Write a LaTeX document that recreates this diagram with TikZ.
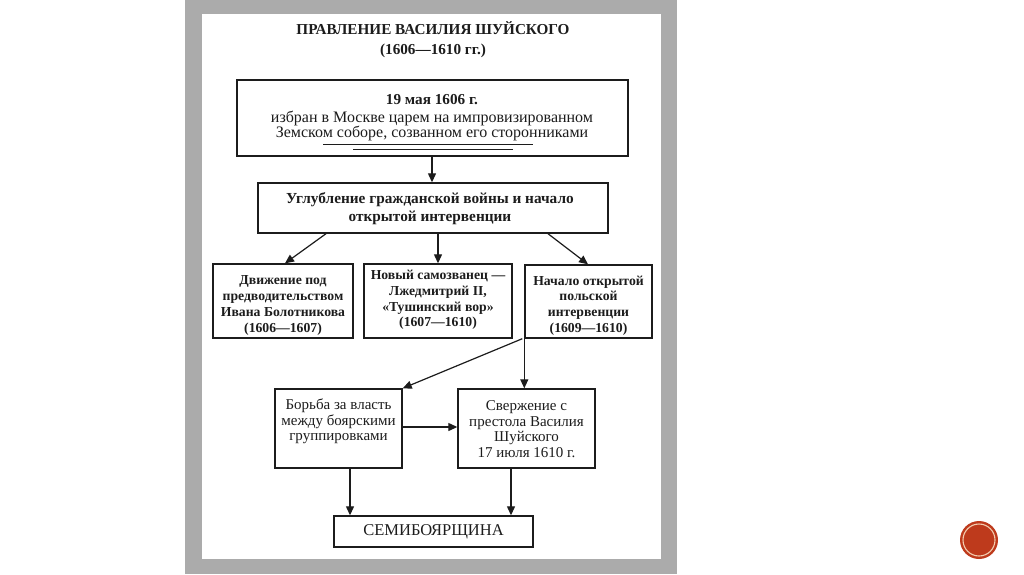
\documentclass[tikz,border=0pt]{standalone}
\usepackage{fontspec}
\setmainfont{Liberation Serif}
\usetikzlibrary{arrows.meta}
\definecolor{panelgrey}{HTML}{ABABAB}
\definecolor{ink}{HTML}{1C1C1C}
\definecolor{dotred}{HTML}{BE3A1C}
\definecolor{ringc}{HTML}{F2CDB0}
\begin{document}
\begin{tikzpicture}[x=1pt,y=-1pt,
  box/.style={draw=ink,line width=1.4pt,inner sep=0pt,fill=white},
  txt/.style={align=center,inner sep=0pt,text=ink,font=\fontsize{13.7}{15.7}\selectfont\bfseries},
  rtxt/.style={align=center,inner sep=0pt,text=ink,font=\fontsize{15}{15.5}\selectfont},
  conn/.style={draw=ink,line width=1.2pt,-{Triangle[length=9pt,width=8pt]}}]
\useasboundingbox (0,0) rectangle (1024,574);
\fill[white] (0,0) rectangle (1024,574);
% panel
\fill[panelgrey] (185,0) rectangle (677,574);
\fill[white] (202,14) rectangle (661,559);
% title
\node[txt,font=\fontsize{15.2}{20}\selectfont\bfseries] (title) at (433,39.5) {ПРАВЛЕНИЕ ВАСИЛИЯ ШУЙСКОГО\\(1606—1610 гг.)};
% boxes
\node[box,minimum width=391,minimum height=76] (top) at (432.5,118) {};
\node[box,minimum width=350,minimum height=50] (deep) at (433,208) {};
\node[box,minimum width=140,minimum height=74] (a) at (283,301) {};
\node[box,minimum width=148,minimum height=74] (b) at (438,301) {};
\node[box,minimum width=127,minimum height=73] (c) at (588.5,301.5) {};
\node[box,minimum width=127,minimum height=79] (d) at (338.5,428.5) {};
\node[box,minimum width=137,minimum height=79] (e) at (526.5,428.5) {};
\node[box,minimum width=199,minimum height=31] (f) at (433.5,531.5) {};
% texts
\node[txt,font=\fontsize{15.2}{16}\selectfont\bfseries] (topt1) at (432,100) {19 мая 1606 г.};
\node[rtxt,font=\fontsize{16}{15.5}\selectfont] (topt2) at (432,126) {избран в Москве царем на импровизированном\\Земском соборе, созванном его сторонниками};
\draw[ink,line width=0.8pt] (323,144) -- (533,144);
\draw[ink,line width=0.8pt] (353,149) -- (513,149);
\node[txt,font=\fontsize{15.3}{18}\selectfont\bfseries] (deept) at (430,208.5) {Углубление гражданской войны и начало\\открытой интервенции};
\node[txt] (at) at (283,305.5) {Движение под\\предводительством\\Ивана Болотникова\\(1606—1607)};
\node[txt] (bt) at (438,300) {Новый самозванец —\\Лжедмитрий II,\\«Тушинский вор»\\(1607—1610)};
\node[txt] (ct) at (588.5,305.5) {Начало открытой\\польской\\интервенции\\(1609—1610)};
\node[rtxt] (dt) at (338.5,421.5) {Борьба за власть\\между боярскими\\группировками};
\node[rtxt] (et) at (526.5,429) {Свержение с\\престола Василия\\Шуйского\\17 июля 1610 г.};
\node[rtxt,font=\fontsize{16.5}{18}\selectfont] (ft) at (433.5,532) {СЕМИБОЯРЩИНА};
% connectors
\draw[conn] (top.south) ++(-0.5,0) coordinate (tops) -- (tops |- deep.north);
\draw[conn] ([xshift=-107pt]deep.south) -- ([xshift=2pt]a.north);
\draw[conn] ([xshift=5pt]deep.south) -- (b.north);
\draw[conn] ([xshift=115pt]deep.south) -- ([xshift=-0.5pt]c.north);
\draw[conn] (c.south west) -- (c.south west |- e.north);
\draw[conn] ([xshift=-2pt]c.south west) -- (d.north east);
\draw[conn] (d.east |- 0,427) -- (e.west |- 0,427);
\draw[conn] ([xshift=11.5pt]d.south) -- ([xshift=11.5pt]d.south |- f.north);
\draw[conn] ([xshift=-15.5pt]e.south) -- ([xshift=-15.5pt]e.south |- f.north);
% slide marker
\fill[dotred] (979,540) circle (19);
\draw[ringc,line width=1.1pt] (979,540) circle (16);
\end{tikzpicture}
\end{document}
